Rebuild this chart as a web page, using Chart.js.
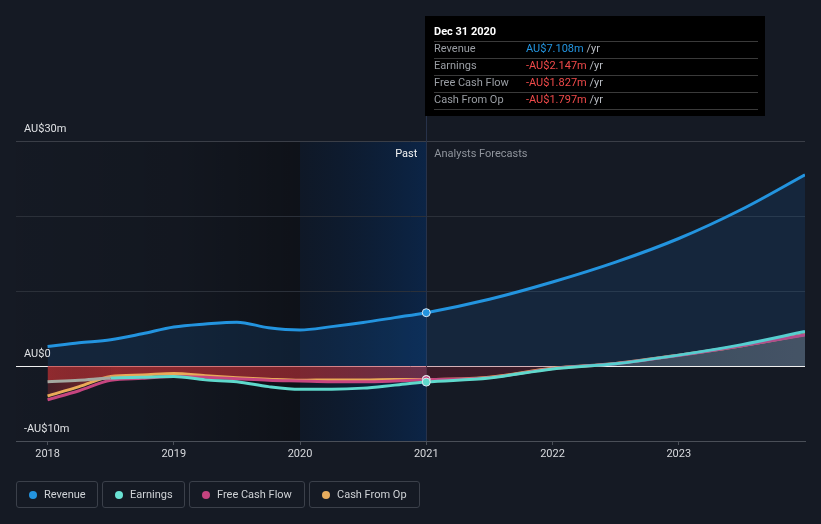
<!DOCTYPE html>
<html>
<head>
<meta charset="utf-8">
<script src="https://cdn.jsdelivr.net/npm/chart.js@4"></script>
<style>
  html,body{margin:0;padding:0;background:#151a24;}
  #wrap{position:relative;width:821px;height:524px;overflow:hidden;font-family:Roboto,"Noto Sans",sans-serif;}
  canvas{position:absolute;left:0;top:0;}
  .lg{position:absolute;top:481px;height:25px;border:1px solid #3b404a;border-radius:3px;box-sizing:content-box;
      color:#cfd2d6;font-size:11px;line-height:25px;white-space:nowrap;}
  .lg i{position:absolute;left:12px;top:9px;width:8px;height:8px;border-radius:50%;}
  .lg span{position:absolute;left:27px;top:0;}
</style>
</head>
<body>
<div id="wrap">
  <canvas id="c" width="821" height="524"></canvas>
  <div class="lg" style="left:16px;width:80px"><i style="background:#2394df"></i><span>Revenue</span></div>
  <div class="lg" style="left:102px;width:81px"><i style="background:#6ae2d4"></i><span>Earnings</span></div>
  <div class="lg" style="left:189px;width:114px"><i style="background:#c5437f"></i><span>Free Cash Flow</span></div>
  <div class="lg" style="left:309px;width:109px"><i style="background:#e7ac5d"></i><span>Cash From Op</span></div>
</div>
<script>
// ---- data (AU$ millions, x = decimal year) ----
const years    = [2018, 2018.25, 2018.5, 2018.75, 2019, 2019.25, 2019.5, 2019.75, 2020, 2020.25, 2020.5, 2020.75, 2021, 2021.5, 2022, 2022.5, 2023, 2023.5, 2024];
const revenue  = [2.6, 3.1, 3.5, 4.3, 5.2, 5.6, 5.85, 5.1, 4.8, 5.25, 5.8, 6.45, 7.108, 8.9, 11.2, 13.85, 17.0, 20.9, 25.5];
const earnings = [-2.1, -1.9, -1.6, -1.5, -1.4, -1.85, -2.1, -2.75, -3.1, -3.1, -2.95, -2.55, -2.147, -1.6, -0.4, 0.3, 1.45, 2.85, 4.6];
const fcf      = [-4.5, -3.3, -1.9, -1.65, -1.4, -1.5, -1.7, -1.9, -2.0, -2.1, -2.1, -2.0, -1.827, -1.55, -0.35, 0.3, 1.4, 2.7, 4.15];
const cfo      = [-4.0, -2.75, -1.4, -1.2, -1.0, -1.3, -1.55, -1.75, -1.9, -1.85, -1.85, -1.8, -1.797, -1.5, -0.3, 0.35, 1.45, 2.7, 4.2];
const xTicks   = [2018, 2019, 2020, 2021, 2022, 2023];
const yTickValues = [30, 0, -10];
const yTickLabels = ['AU$30m', 'AU$0', '-AU$10m'];
const pastStart = 2020, pastEnd = 2021;
const tipTitle = 'Dec 31 2020';
const tipLabels = ['Revenue', 'Earnings', 'Free Cash Flow', 'Cash From Op'];
const tipValues = ['AU$7.108m', '-AU$2.147m', '-AU$1.827m', '-AU$1.797m'];
const tipColors = ['#2394df', '#f04a4a', '#f04a4a', '#f04a4a'];

const pts = arr => years.map((x, i) => ({x, y: arr[i]}));
const ptRadius = ctx => (ctx.raw && ctx.raw.x === pastEnd) ? 4 : 0;

function hGrad(ctx, stops) {
  const ch = ctx.chart, ca = ch.chartArea;
  if (!ca) return 'rgba(0,0,0,0)';
  const xs = ch.scales.x;
  const f = v => Math.min(1, Math.max(0, (xs.getPixelForValue(v) - ca.left) / (ca.right - ca.left)));
  const g = ch.ctx.createLinearGradient(ca.left, 0, ca.right, 0);
  stops.forEach(s => g.addColorStop(Math.min(1, Math.max(0, f(s[0]) + (s[2] || 0))), s[1]));
  return g;
}
const cfoFill = ctx => hGrad(ctx, [
  [2018, 'rgba(150,38,46,0.38)'],
  [2018.55, 'rgba(200,50,52,0.68)'],
  [2020, 'rgba(190,48,55,0.62)'],
  [2021, 'rgba(195,60,80,0.5)', -0.001],
  [2021, 'rgba(150,30,50,0.3)', 0.001],
  [2022.2, 'rgba(150,30,50,0.3)', -0.001],
  [2022.2, 'rgba(130,130,130,0.38)', 0.001],
  [2024, 'rgba(140,140,140,0.45)']
]);
const earnFill = ctx => hGrad(ctx, [
  [2018, 'rgba(205,52,52,0.55)'],
  [2018.45, 'rgba(205,52,52,0.2)'],
  [2018.6, 'rgba(205,52,52,0)'],
  [2024, 'rgba(205,52,52,0)']
]);

const bgPlugin = {
  id: 'bg',
  beforeDraw(chart) {
    const {ctx, chartArea: ca, scales: {x}} = chart;
    ctx.save();
    ctx.fillStyle = '#151a24';
    ctx.fillRect(0, 0, chart.width, chart.height);
    const x0 = x.getPixelForValue(pastStart), x1 = x.getPixelForValue(pastEnd);
    let g = ctx.createLinearGradient(ca.left, 0, x0, 0);
    g.addColorStop(0, 'rgba(0,0,0,0.02)');
    g.addColorStop(0.6, 'rgba(0,0,0,0.12)');
    g.addColorStop(1, 'rgba(0,0,0,0.32)');
    ctx.fillStyle = g;
    ctx.fillRect(ca.left, ca.top, x0 - ca.left, ca.bottom - ca.top);
    g = ctx.createLinearGradient(x0, 0, x1, 0);
    g.addColorStop(0, 'rgba(8,22,42,0.45)');
    g.addColorStop(1, 'rgba(8,40,82,0.74)');
    ctx.fillStyle = g;
    ctx.fillRect(x0, ca.top, x1 - x0, ca.bottom - ca.top);
    ctx.restore();
  },
  beforeDatasetsDraw(chart) {
    const {ctx, chartArea: ca, scales: {x}} = chart;
    const x1 = Math.round(x.getPixelForValue(pastEnd)) + 0.5;
    ctx.save();
    ctx.strokeStyle = '#27324a';
    ctx.lineWidth = 1;
    ctx.beginPath(); ctx.moveTo(x1, 16); ctx.lineTo(x1, ca.bottom); ctx.stroke();
    ctx.restore();
  },
  afterDraw(chart) {
    const {ctx, chartArea: ca, scales: {x, y}} = chart;
    ctx.save();
    ctx.font = '11px Roboto';
    ctx.fillStyle = '#dfe1e4';
    ctx.textBaseline = 'middle';
    ctx.textAlign = 'left';
    yTickValues.forEach((v, i) => ctx.fillText(yTickLabels[i], 24, y.getPixelForValue(v) - 12));
    const xp = x.getPixelForValue(pastEnd);
    ctx.textAlign = 'right';
    ctx.fillStyle = '#f2f2f2';
    ctx.fillText('Past', xp - 9, ca.top + 13);
    ctx.textAlign = 'left';
    ctx.fillStyle = '#8f949c';
    ctx.fillText('Analysts Forecasts', xp + 8, ca.top + 13);
    const bx = Math.round(xp) - 1, by = 16, bw = 340, bh = 100;
    ctx.fillStyle = '#000000';
    ctx.fillRect(bx, by, bw, bh);
    ctx.fillStyle = '#ffffff';
    ctx.font = 'bold 11px Roboto';
    ctx.fillText(tipTitle, bx + 9, by + 16);
    ctx.strokeStyle = '#3a3a3a';
    ctx.lineWidth = 1;
    for (let i = 0; i <= tipLabels.length; i++) {
      const ly = Math.round(by + 24.5 + i * 17) + 0.5;
      ctx.beginPath(); ctx.moveTo(bx + 9, ly); ctx.lineTo(bx + 333, ly); ctx.stroke();
    }
    ctx.font = '11px Roboto';
    tipLabels.forEach((lab, i) => {
      const ry = by + 33 + i * 17;
      ctx.fillStyle = '#9a9ea4';
      ctx.fillText(lab, bx + 9, ry);
      ctx.fillStyle = tipColors[i];
      ctx.fillText(tipValues[i], bx + 101, ry);
      const w = ctx.measureText(tipValues[i]).width;
      ctx.fillStyle = '#b8bcc2';
      ctx.fillText(' /yr', bx + 101 + w, ry);
    });
    ctx.restore();
  }
};

Chart.defaults.font.family = 'Roboto, "Noto Sans", sans-serif';

new Chart(document.getElementById('c'), {
  type: 'line',
  data: {
    datasets: [
      { label: 'Revenue', data: pts(revenue), borderColor: '#2394df', borderWidth: 3,
        fill: 'origin', backgroundColor: 'rgba(25,135,240,0.12)',
        pointRadius: ptRadius, pointBackgroundColor: '#2394df', pointBorderColor: '#dfe8f2', pointBorderWidth: 1,
        cubicInterpolationMode: 'monotone' },
      { label: 'Earnings', data: pts(earnings), borderColor: '#5fd9cc', borderWidth: 3,
        fill: 'origin', backgroundColor: earnFill,
        segment: { borderColor: c => c.p0.parsed.x < 2018.5 ? '#a4a8a0' : undefined },
        pointRadius: ptRadius, pointBackgroundColor: '#5fd9cc', pointBorderColor: '#dfe8f2', pointBorderWidth: 1,
        cubicInterpolationMode: 'monotone' },
      { label: 'Free Cash Flow', data: pts(fcf), borderColor: '#c6457f', borderWidth: 3, fill: false,
        pointRadius: ptRadius, pointBackgroundColor: '#c6457f', pointBorderColor: '#dfe8f2', pointBorderWidth: 1,
        cubicInterpolationMode: 'monotone' },
      { label: 'Cash From Op', data: pts(cfo), borderColor: '#e9aa58', borderWidth: 3,
        fill: 'origin', backgroundColor: cfoFill,
        pointRadius: ptRadius, pointBackgroundColor: '#e9aa58', pointBorderColor: '#dfe8f2', pointBorderWidth: 1,
        cubicInterpolationMode: 'monotone' }
    ]
  },
  options: {
    responsive: false,
    animation: false,
    devicePixelRatio: 1,
    layout: { padding: { left: 16, right: 16, top: 141, bottom: 53 } },
    plugins: { legend: { display: false }, tooltip: { enabled: false } },
    events: [],
    scales: {
      x: {
        type: 'linear', min: 2017.75, max: 2024,
        afterBuildTicks: ax => { ax.ticks = xTicks.map(v => ({ value: v })); },
        afterFit: ax => { ax.height = 30; },
        grid: { drawOnChartArea: false, drawTicks: true, tickLength: 4, color: '#4a4f58' },
        border: { color: '#4a4f58' },
        ticks: { color: '#d8dade', font: { size: 11 }, padding: 3, callback: v => String(v), maxRotation: 0 }
      },
      y: {
        min: -10, max: 30,
        afterFit: ax => { ax.width = 0; },
        ticks: { display: false, stepSize: 10 },
        border: { display: false },
        grid: {
          drawTicks: false,
          color: c => c.tick.value === 0 ? '#f0f0f0' : (c.tick.value === -10 ? '#4a4f58' : (c.tick.value === 30 ? '#3a3e47' : '#2b3039'))
        }
      }
    }
  },
  plugins: [bgPlugin]
});
</script>
</body>
</html>
